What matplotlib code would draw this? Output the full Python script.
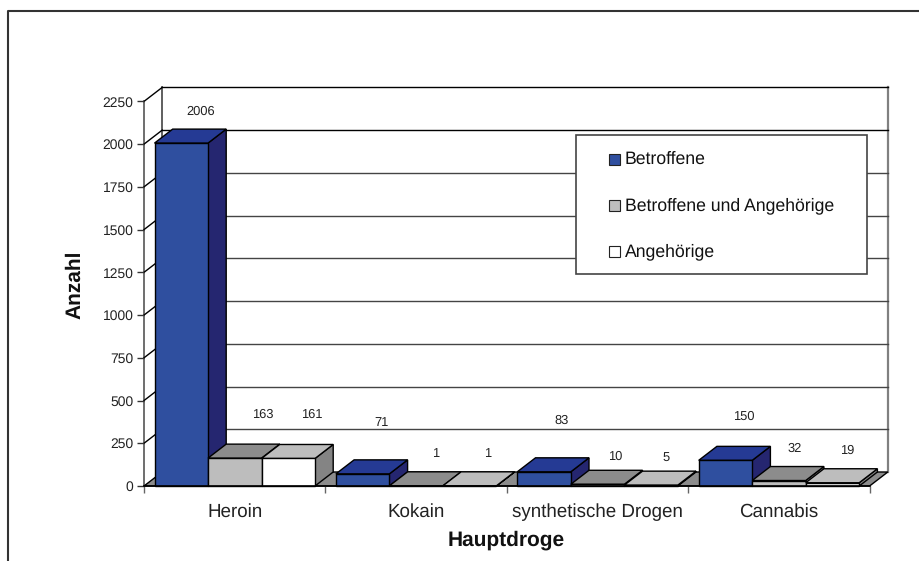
import matplotlib
matplotlib.use('Agg')
import matplotlib.pyplot as plt
from matplotlib.patches import Polygon, Rectangle
from matplotlib.lines import Line2D

plt.rcParams['font.family'] = ['Liberation Sans', 'DejaVu Sans']
plt.rcParams['text.hinting'] = 'none'

categories = ['Heroin', 'Kokain', 'synthetische Drogen', 'Cannabis']
series_names = ['Betroffene', 'Betroffene und Angehörige', 'Angehörige']
betroffene = [2006, 71, 83, 150]
beide = [163, 1, 10, 32]
angehoerige = [161, 1, 5, 19]
y_ticks = [0, 250, 500, 750, 1000, 1250, 1500, 1750, 2000, 2250]

# front, top, side colours per series
front_cols = ['#2f4f9f', '#bdbdbd', '#ffffff']
top_cols = ['#253a94', '#8c8c8c', '#bdbdbd']
side_cols = ['#252670', '#8c8c8c', '#848484']
floor_col = '#8c8c8c'

# label offsets in pixels from the middle of the bar's front top edge
label_dx = [[19.75, 19, 18, 18.6], [28, 19.9, 17.5, 15.4], [23.5, 17.7, 15.3, 14.3]]
label_dy = [[31.5, 51.2, 51.1, 43.7], [43.4, 32.5, 27.6, 31.8], [43.8, 31.8, 27.1, 32.1]]

W, H = 920, 561
CAT_PX = 181.4
VAL_PX = 0.1709
depth_x = 18.2 / CAT_PX
depth_y = 14 / VAL_PX
bar_w = 53.5 / CAT_PX
bar_start = 10.5 / CAT_PX

fig = plt.figure(figsize=(W / 100, H / 100), dpi=100, facecolor='white')

# overlay in pixel coordinates for frame, legend and axis titles
over = fig.add_axes([0, 0, 1, 1], zorder=3)
over.set_xlim(0, W)
over.set_ylim(H, 0)
over.axis('off')

ax = fig.add_axes([144 / W, (H - 486) / H, 744 / W, 398.6 / H], zorder=2)
ax.patch.set_alpha(0)
ax.set_xlim(0, 744 / CAT_PX)
ax.set_ylim(0, 2250 + depth_y)
for s in ax.spines.values():
    s.set_visible(False)

n_cat = len(categories)
top = y_ticks[-1]

# walls, kept behind the floor and the bars
ax.plot([0, 0], [0, top], color='#555555', lw=1.2, clip_on=False, zorder=0.5)
ax.plot([depth_x, depth_x], [depth_y, top + depth_y], color='#444444', lw=1.2, clip_on=False, zorder=0.5)
ax.plot([n_cat + depth_x] * 2, [depth_y, top + depth_y], color='#808080', lw=1.6, clip_on=False, zorder=0.5)
for v in y_ticks[1:]:
    col = 'black' if v in (2000, 2250) else '#444444'
    ax.plot([depth_x, n_cat + depth_x], [v + depth_y] * 2, color=col, lw=1, clip_on=False, zorder=0.5)
    ax.plot([0, depth_x], [v, v + depth_y], color='black', lw=1, clip_on=False, zorder=0.5)

# floor
ax.add_patch(Polygon([(0, 0), (n_cat, 0), (n_cat + depth_x, depth_y), (depth_x, depth_y)],
                     facecolor=floor_col, edgecolor='black', lw=1, clip_on=False))


def draw_bar(x0, val, j):
    x1 = x0 + bar_w
    ax.add_patch(Polygon([(x1, 0), (x1 + depth_x, depth_y), (x1 + depth_x, val + depth_y), (x1, val)],
                         facecolor=side_cols[j], edgecolor='black', lw=1, clip_on=False))
    ax.add_patch(Polygon([(x0, val), (x1, val), (x1 + depth_x, val + depth_y), (x0 + depth_x, val + depth_y)],
                         facecolor=top_cols[j], edgecolor='black', lw=1, clip_on=False))
    ax.add_patch(Rectangle((x0, 0), bar_w, val, facecolor=front_cols[j], edgecolor='black', lw=1, clip_on=False))


all_series = [betroffene, beide, angehoerige]
for i in range(n_cat):
    for j, vals in enumerate(all_series):
        x0 = i + bar_start + j * bar_w
        draw_bar(x0, vals[i], j)
        ax.annotate(str(vals[i]), (x0 + bar_w / 2, vals[i]),
                    xytext=(label_dx[j][i], label_dy[j][i]), textcoords='offset pixels',
                    ha='center', va='center', fontsize=9.3, color='#222222',
                    annotation_clip=False, zorder=6)

# front baseline
ax.plot([0, n_cat], [0, 0], color='black', lw=1.2, clip_on=False, zorder=5)

# axes ticks
ax.set_yticks(y_ticks)
ax.tick_params(axis='y', length=5, width=1, color='#333333', labelsize=10, pad=2.5, labelcolor='#222222')
ax.set_xticks(range(n_cat + 1))
ax.set_xticklabels([])
ax.tick_params(axis='x', which='major', length=5, width=1, color='#666666')
ax.set_xticks([i + 0.5 for i in range(n_cat)], minor=True)
ax.set_xticklabels(categories, minor=True)
ax.tick_params(axis='x', which='minor', length=0, labelsize=13.5, pad=12.5, labelcolor='#222222')

# axis titles
over.text(506, 540, 'Hauptdroge', ha='center', va='center', fontsize=15, fontweight='bold', color='#111111')
over.text(75, 285, 'Anzahl', ha='center', va='center', rotation=90, fontsize=15, fontweight='bold', color='#111111')

# outer frame, open at the bottom and right
over.add_line(Line2D([8, 8, W], [H, 11, 11], color='#333333', lw=1.5))

# legend
over.add_patch(Rectangle((576, 135), 291, 139, facecolor='white', edgecolor='#444444', lw=1.2, zorder=4))
for name, col, yc in zip(series_names, front_cols, [159, 205, 251]):
    over.add_patch(Rectangle((609.5, yc - 5.5), 11, 11, facecolor=col, edgecolor='#222222', lw=0.8, zorder=5))
    over.text(625, yc + 0.5, name, ha='left', va='center', fontsize=12.7, color='#111111', zorder=5)

fig.savefig('out.png', dpi=100, facecolor='white')
